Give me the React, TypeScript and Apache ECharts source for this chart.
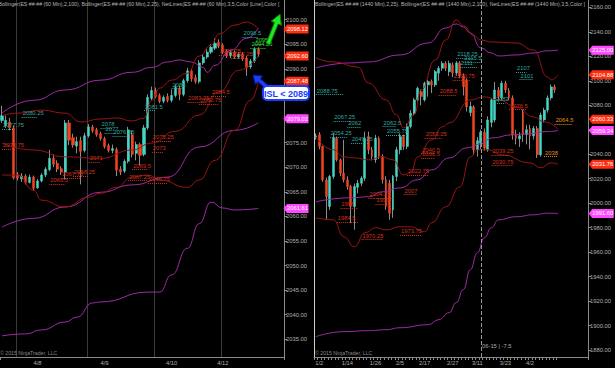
import React, { useEffect, useRef } from 'react';
import * as echarts from 'echarts';

const FONT = "'Liberation Sans Narrow', 'Liberation Sans', Arial, sans-serif";

// ---------- axes ----------
const LEFT_CATEGORY_COUNT = 72;
const RIGHT_CATEGORY_COUNT = 78;
const leftYMin = 2031.4;
const leftYMax = 2104;
const rightYMin = 1874.3;
const rightYMax = 2166;
const leftYTicks = [2035, 2040, 2045, 2050, 2055, 2060, 2065, 2070, 2075, 2080, 2085, 2090, 2095, 2100];
const rightYTicks = [1880, 1900, 1920, 1940, 1960, 1980, 2000, 2020, 2040, 2060, 2080, 2100, 2120, 2140, 2160];
const leftDateLabels = ['4/8', '4/9', '4/10', '4/12'];
const leftDateIndex = [9, 26, 43, 56];
const leftSessionBreaks = [4, 22, 39, 56];
const leftTickIndex = [60];
const rightDateLabels = ['1/2', '1/14', '1/26', '2/5', '2/17', '2/27', '3/11', '3/23', '4/2'];
const rightDateIndex = [1, 9, 17, 24, 31, 39, 46, 54, 61];
const rightLastTick = 69;
const rightRollIndex = 47;

// ---------- 60 min candles [open, close, low, high] ----------
const leftCandles = [
  [2079.5, 2080.5, 2079, 2082.5], [2078.5, 2079.5, 2078, 2080.5], [2079.2, 2078, 2077.5, 2080],
  [2078, 2067.8, 2067.5, 2078.5], [2068.5, 2067.8, 2067.3, 2069], [2067.6, 2068.2, 2067, 2068.8],
  [2068.2, 2066.9, 2066.5, 2068.6], [2066.9, 2068, 2066.7, 2068.5], [2068, 2065.7, 2065.2, 2068.3],
  [2065.8, 2067.2, 2065.6, 2067.6], [2067.2, 2068.4, 2066.9, 2068.8], [2068.4, 2069.6, 2068, 2070],
  [2069.5, 2071.8, 2069.2, 2073.5], [2071.8, 2070.6, 2070, 2072.6], [2070.8, 2069.6, 2069, 2071.4],
  [2069.7, 2069, 2068.4, 2070.2], [2069, 2079, 2067.5, 2079.6], [2079, 2075.5, 2074.5, 2079.6],
  [2076, 2074.5, 2074, 2076.8], [2074.3, 2075.2, 2072.8, 2076.2], [2075.4, 2073.2, 2066.5, 2076.2],
  [2073.4, 2076.4, 2073, 2077], [2076.4, 2078.2, 2076, 2078.8], [2078.2, 2077.4, 2077, 2078.6],
  [2077.6, 2076.6, 2076.2, 2078], [2076.8, 2075.8, 2075.4, 2077.2], [2075.8, 2074.2, 2073.8, 2076.2],
  [2074.4, 2073.4, 2073, 2074.8], [2073.4, 2073.8, 2072.8, 2074.6], [2073.6, 2069.4, 2068.2, 2074],
  [2069.6, 2069, 2068.4, 2070.2], [2069.2, 2071.2, 2068.8, 2071.6], [2071.2, 2077.6, 2070.8, 2078.2],
  [2076.6, 2072.6, 2072, 2077.4], [2072.8, 2074.6, 2071.4, 2075.2], [2074.6, 2072.4, 2070.4, 2075],
  [2072.6, 2078, 2072.2, 2078.6], [2078, 2084.2, 2077.6, 2084.8], [2084, 2085.6, 2083.6, 2086.4],
  [2085.6, 2084.4, 2084, 2086.2], [2084.6, 2083.4, 2083, 2085], [2083.4, 2084.2, 2083, 2084.6],
  [2084.4, 2083.6, 2083.2, 2085], [2083.6, 2084.6, 2083.2, 2085.8], [2084.6, 2086.2, 2084.2, 2086.8],
  [2086, 2084.8, 2083.6, 2086.6], [2084.8, 2087.6, 2084.4, 2088], [2087.6, 2089.6, 2087.2, 2090.2],
  [2089.6, 2088, 2087.4, 2090], [2088.2, 2087.4, 2087, 2088.8], [2087.4, 2091.2, 2087, 2091.8],
  [2091.2, 2092.4, 2090.8, 2093], [2092.4, 2093.4, 2092, 2094], [2093.4, 2094.4, 2093, 2095],
  [2094.2, 2095.2, 2093.8, 2096.2], [2095.4, 2094.6, 2094.2, 2096], [2094.8, 2093.4, 2093, 2095.2],
  [2093.6, 2092.6, 2092.2, 2094], [2092.6, 2093.4, 2092.2, 2093.8], [2093.4, 2092.4, 2092, 2093.8],
  [2092.4, 2093, 2092, 2093.4], [2093, 2092, 2091.6, 2093.4], [2092.2, 2090.2, 2088.6, 2092.6],
  [2090.4, 2091.6, 2090, 2092], [2091.6, 2094, 2091.2, 2094.4], [2094, 2093, 2092.4, 2094.4],
];

// ---------- daily candles [open, close, low, high] ----------
const rightCandles = [
  [2054, 2055, 2052, 2057], [2056, 2046.3, 2044, 2058], [2046.3, 2019.1, 2017.5, 2047],
  [2019, 2005.5, 1986.4, 2021], [1997.3, 2021.8, 1994.6, 2023], [2021.8, 2053.1, 2020, 2057.2],
  [2053.1, 2035.4, 2034, 2054.4], [2035.4, 2024.5, 2022, 2036.5], [2024.5, 2019.1, 2017, 2051.7],
  [2019.1, 2013.6, 2011, 2022], [2013.6, 1997.3, 1983.7, 2015], [1997.3, 2013.6, 1978.3, 2016],
  [2013, 2016.3, 2008, 2019], [2016.3, 2020.4, 2014, 2022], [2020.4, 2053.1, 2018, 2058.5],
  [2054.4, 2043.6, 2040, 2058.5], [2043.6, 2038.1, 2035, 2046], [2035.4, 2053.1, 2033, 2055.8],
  [2053.1, 2038.1, 2036, 2054.4], [2038.1, 2019.1, 2016, 2040], [2019.1, 1997.3, 1994.6, 2022],
  [2016.3, 1991.8, 1986.4, 2019], [1994.6, 2021.8, 1988, 2023], [2021.8, 2043.6, 2018, 2046],
  [2043.6, 2054.4, 2040, 2057], [2054.4, 2046.3, 2043.6, 2056], [2046.3, 2062.6, 2044, 2065],
  [2062.6, 2073.5, 2061, 2076], [2073.5, 2084.4, 2072, 2086], [2084.4, 2093.9, 2083, 2095.2],
  [2091.2, 2087.1, 2080, 2093], [2084.4, 2098, 2083, 2099.3], [2096.6, 2099.3, 2087, 2100.7],
  [2099.3, 2096.6, 2090, 2101], [2096.6, 2107.5, 2095, 2108.8], [2106.2, 2110.2, 2100, 2112],
  [2110.2, 2114.3, 2108, 2116], [2114.3, 2110.2, 2108, 2116], [2107.5, 2114.3, 2104, 2116.5],
  [2113, 2106.4, 2103, 2115], [2106.4, 2114.6, 2104, 2116], [2114.6, 2104, 2102, 2116],
  [2104, 2095, 2088, 2106], [2100.7, 2078.7, 2075, 2102], [2074, 2079, 2071, 2083],
  [2078.7, 2043.6, 2039.5, 2080], [2043.6, 2051, 2038, 2054], [2049, 2058, 2044, 2060],
  [2058, 2045, 2043, 2061], [2043.6, 2068, 2042, 2071], [2066, 2084.4, 2062, 2086],
  [2068, 2092.5, 2066, 2099], [2092.5, 2087, 2083, 2095], [2086, 2098, 2084, 2100],
  [2098, 2092.5, 2090, 2100], [2092, 2086, 2084, 2094], [2086, 2056, 2052, 2088],
  [2056, 2053, 2048, 2060], [2052.5, 2055, 2046, 2058], [2074.6, 2056, 2050, 2077],
  [2056, 2060, 2048, 2064], [2061, 2055, 2044, 2064], [2055, 2061, 2052, 2063],
  [2061, 2039.5, 2037, 2063], [2039.5, 2072, 2038, 2074], [2068, 2076, 2066, 2078],
  [2076, 2086, 2074, 2088], [2086, 2095, 2084, 2097], [2095, 2092.5, 2090, 2097],
];

// ---------- Bollinger bands, [category index, value] ----------
const leftPurpleUpper = [[0, 2081], [8, 2083.6], [16, 2085.7], [25, 2087.7], [33, 2089.3], [38, 2090.3], [42, 2091.4], [45, 2091.8], [48, 2091.4], [51, 2090.3], [52, 2089.3], [54, 2090.7], [58, 2093.8], [62, 2096.2], [65, 2098.3]];
const leftPurpleMiddle = [[0, 2057.8], [8, 2059.6], [16, 2061.9], [25, 2064.9], [33, 2066.4], [42, 2068], [50, 2074.1], [59, 2077.5], [65, 2079.02]];
const leftPurpleLower = [[0, 2035.7], [6, 2036.1], [10, 2036.9], [16, 2038.5], [19, 2039.5], [23, 2042.4], [25, 2042.6], [37, 2044.6], [40, 2044.6], [43, 2048.1], [47, 2053.5], [50, 2058.5], [53, 2062.9], [56, 2061.7], [59, 2061.3], [65, 2061.61]];
const leftRedUpper = [[0, 2080.5], [4, 2081], [10, 2081.6], [16, 2081], [20, 2079.2], [25, 2079.8], [29, 2080], [33, 2079.4], [36, 2080], [38, 2083.6], [40, 2086.1], [43, 2087.7], [47, 2089.1], [50, 2092.6], [53, 2094.8], [55, 2097.1], [59, 2098.9], [62, 2099.5], [65, 2098.12]];
const leftRedMiddle = [[0, 2074.9], [8, 2073.5], [16, 2072.1], [25, 2071.8], [33, 2073.5], [38, 2074.9], [44, 2077.3], [50, 2080.6], [55, 2085.3], [60, 2089.7], [65, 2092.6]];
const leftRedLower = [[0, 2068.4], [4, 2068.4], [8, 2065.3], [10, 2063.3], [16, 2061.9], [22, 2063.9], [25, 2064.7], [29, 2065.9], [33, 2068], [37, 2068.4], [40, 2067.4], [47, 2065.9], [50, 2067.4], [54, 2071.4], [59, 2077.5], [63, 2083.6], [65, 2087.48]];

const rightPurpleUpper = [[0, 2110.5], [10, 2114.6], [15, 2115.4], [24, 2121.1], [32, 2130.9], [37, 2143.1], [40, 2146.4], [42, 2144], [44, 2139.1], [47, 2126.8], [50, 2122.7], [52, 2120.3], [57, 2121.1], [62, 2122.7], [66, 2124.5], [69, 2125]];
const rightPurpleMiddle = [[0, 2001.1], [10, 2004.4], [15, 2005.2], [19, 2009.3], [24, 2012.5], [29, 2019.1], [33, 2027.2], [38, 2037], [43, 2045.2], [47, 2048.4], [50, 2053.3], [56, 2055.8], [60, 2056.6], [66, 2058.5], [69, 2059.34]];
const rightPurpleLower = [[0, 1890.9], [8, 1895], [15, 1895.8], [20, 1896.6], [24, 1898.2], [32, 1900.7], [35, 1904.8], [38, 1910.5], [40, 1918.7], [42, 1929.3], [44, 1945.6], [46, 1959.5], [48, 1971.7], [50, 1979.9], [52, 1986.4], [57, 1988.9], [62, 1990.5], [66, 1991.8], [69, 1991.6]];
const rightRedUpper = [[0, 2118.7], [5, 2115.4], [12, 2111.3], [15, 2098.2], [20, 2084.4], [23, 2072.1], [25, 2061.5], [28, 2072.1], [30, 2092.5], [34, 2117], [37, 2133.3], [40, 2149.7], [42, 2145], [45, 2137], [47, 2133.3], [50, 2131.7], [57, 2130.9], [62, 2125.2], [66, 2103.1], [67, 2100.7], [69, 2104.88]];
const rightRedMiddle = [[0, 2054.2], [5, 2043.6], [8, 2037.8], [11, 2037], [15, 2035.4], [19, 2037.8], [22, 2035.4], [25, 2023.1], [27, 2024.8], [29, 2037.8], [33, 2051.7], [36, 2062.3], [38, 2065.6], [44, 2084.4], [48, 2086.8], [52, 2084.4], [57, 2078.7], [62, 2070.5], [65, 2066.4], [69, 2060.33]];
const rightRedLower = [[0, 1988], [5, 1986.4], [8, 1972.5], [11, 1964.4], [14, 1975.8], [17, 1979.9], [20, 1978.2], [24, 1980.7], [27, 1980.7], [31, 1976.6], [33, 1984], [37, 1997], [41, 2013.3], [44, 2037.8], [46, 2043.6], [49, 2043.6], [53, 2039.5], [61, 2032.9], [64, 2028.9], [67, 2032.9], [69, 2031.76]];

// ---------- NetLines levels [value, from index, to index] ----------
const leftTealLevels = [[2080.25, 5, 9], [2077.75, 0, 3], [2081.5, 36, 39], [2086, 43, 46], [2078, 25, 28], [2077, 26, 29], [2076.25, 28, 32], [2096.5, 61, 65]];
const leftRedLevels = [[2073.75, 0, 3], [2071, 22, 25], [2075.25, 38, 43], [2073, 38, 41], [2069.5, 33, 37], [2067.25, 32, 37], [2066.75, 37, 42], [2066.5, 12, 16], [2068.25, 18, 22], [2067.75, 15, 20], [2084.5, 53, 57], [2083.25, 47, 52], [2082.75, 50, 55], [2092.75, 55, 59], [2092.25, 58, 62]];
const leftGreenLevels = [[2095, 64, 66], [2094.25, 63, 67]];
const rightTealLevels = [[2088.75, 0, 8], [2067.25, 5, 10], [2062, 9, 13], [2054.25, 4, 9], [2049.25, 10, 15], [2062.5, 19, 23], [2055.75, 20, 26], [2118.25, 40, 45], [2115.5, 42, 47], [2111, 41, 46], [2107, 57, 60], [2101, 58, 62], [2082, 51, 54]];
const rightRedLevels = [[2088.5, 35, 40], [2100.75, 39, 44], [2053.25, 31, 36], [2040.5, 30, 34], [2036.5, 30, 34], [2022.75, 26, 32], [2007, 25, 29], [2004.25, 15, 22], [1999, 17, 21], [1996, 7, 12], [1984.5, 6, 12], [1970.25, 13, 19], [1973.75, 24, 30], [2076.5, 55, 60], [2039.25, 50, 55], [2030.75, 50, 56]];
const rightOrangeLevels = [[2064.5, 68, 73], [2038, 65, 69]];

// ---------- styles ----------
const UP = '#43d6c4';
const DOWN = '#f4421f';
const WICK = '#8c8c8c';
const BAND_RED = '#9c1414';
const BAND_PURPLE = '#a22aa8';
const TAG_RED = '#ff2d10';
const TAG_MAGENTA = '#ff48ff';
const TEAL_TXT = '#2fa69c';
const RED_TXT = '#d2311c';
const ORANGE_TXT = '#e08f1a';
const GREEN_TXT = '#3ad43a';
const AXIS = '#8a8a8a';
const AXIS_TXT = '#b0b0b0';
const TAG_PATH = 'path://M0,4.5L4,0L29,0L29,9L4,9Z';

const cats = (n: number) => Array.from({ length: n }, (_, i) => String(i));
const labelAt = (idx: number[], labels: string[]) => (_v: any, i: number) => {
  const k = idx.indexOf(i);
  return k >= 0 ? labels[k] : '';
};

function tag(value: number, fill: string, xIdx: number, dx: number, dy = 0) {
  return {
    coord: [xIdx, value],
    value,
    symbol: TAG_PATH,
    symbolSize: [25, 9],
    symbolKeepAspect: false,
    symbolOffset: [dx, dy],
    itemStyle: { color: fill },
    label: {
      show: true, position: 'inside', formatter: value.toFixed(2), color: '#ffffff',
      fontSize: 5.8, fontFamily: FONT, offset: [1.5, 0],
    },
  };
}

function netline(level: number[], color: string) {
  const [v, a, b] = level;
  return [
    {
      coord: [a, v],
      lineStyle: { color, type: 'dotted', width: 1 },
      label: {
        show: true, position: 'insideStartTop', formatter: String(v), color,
        fontSize: 5.8, fontFamily: FONT, distance: 1,
      },
    },
    { coord: [b, v] },
  ];
}

function band(data: number[][], color: string, axisIndex: number, extra: any = {}) {
  return {
    type: 'line', xAxisIndex: axisIndex, yAxisIndex: axisIndex, data,
    smooth: 0.5, smoothMonotone: 'x', symbol: 'none', showSymbol: false,
    lineStyle: { color, width: 1 }, itemStyle: { color }, silent: true, z: 4, clip: false,
    ...extra,
  };
}

function candles(data: number[][], axisIndex: number, width: number) {
  const wick = {
    type: 'candlestick', xAxisIndex: axisIndex, yAxisIndex: axisIndex, data, barWidth: 1, silent: true, z: 2,
    itemStyle: { color: WICK, color0: WICK, borderColor: WICK, borderColor0: WICK, borderWidth: 1 },
  };
  const body = {
    type: 'candlestick', xAxisIndex: axisIndex, yAxisIndex: axisIndex, barWidth: width, silent: true, z: 3,
    data: data.map(([o, c]) => [o, c, Math.min(o, c), Math.max(o, c)]),
    itemStyle: { color: UP, color0: DOWN, borderColor: UP, borderColor0: DOWN, borderWidth: 0.5 },
  };
  return [wick, body];
}

function arrowPoints(tx: number, ty: number, hx: number, hy: number, sw: number, hw: number, hl: number) {
  const dx = hx - tx, dy = hy - ty;
  const L = Math.sqrt(dx * dx + dy * dy);
  const ux = dx / L, uy = dy / L;
  const px = -uy, py = ux;
  const bx = tx + ux * (L - hl), by = ty + uy * (L - hl);
  return [
    [tx + (px * sw) / 2, ty + (py * sw) / 2],
    [bx + (px * sw) / 2, by + (py * sw) / 2],
    [bx + (px * hw) / 2, by + (py * hw) / 2],
    [hx, hy],
    [bx - (px * hw) / 2, by - (py * hw) / 2],
    [bx - (px * sw) / 2, by - (py * sw) / 2],
    [tx - (px * sw) / 2, ty - (py * sw) / 2],
  ];
}

function xAxisBase(grid: number, n: number, idx: number[], labels: string[], tickFn: (i: number) => boolean, splitFn: (i: number) => boolean) {
  return {
    type: 'category', gridIndex: grid, data: cats(n), boundaryGap: true,
    axisLine: { show: true, lineStyle: { color: AXIS, width: 1 } },
    axisTick: { show: true, interval: (i: number) => tickFn(i), length: 3, lineStyle: { color: AXIS } },
    axisLabel: { interval: 0, formatter: labelAt(idx, labels), color: AXIS_TXT, fontSize: 5.8, fontFamily: FONT, margin: 3 },
    splitLine: { show: true, interval: (i: number) => splitFn(i), lineStyle: { color: '#3a3a3a', width: 1 } },
  };
}

function yAxisBase(grid: number, min: number, max: number, ticks: number[]) {
  return {
    type: 'value', gridIndex: grid, position: 'right', min, max,
    axisLine: { show: true, lineStyle: { color: AXIS, width: 1 } },
    axisTick: { show: true, length: 3, customValues: ticks, lineStyle: { color: AXIS } },
    axisLabel: {
      customValues: ticks, formatter: (v: number) => v.toFixed(2), color: AXIS_TXT,
      fontSize: 5.8, fontFamily: FONT, margin: 2,
    },
    splitLine: { show: false },
  };
}

function buildOption() {
  const L = 0, R = 1;
  const leftLast = LEFT_CATEGORY_COUNT - 1;
  const rightLast = RIGHT_CATEGORY_COUNT - 1;

  const leftNet = [
    ...leftTealLevels.map((l) => netline(l, TEAL_TXT)),
    ...leftRedLevels.map((l) => netline(l, RED_TXT)),
    ...leftGreenLevels.map((l) => netline(l, GREEN_TXT)),
  ];
  const rightNet = [
    ...rightTealLevels.map((l) => netline(l, TEAL_TXT)),
    ...rightRedLevels.map((l) => netline(l, RED_TXT)),
    ...rightOrangeLevels.map((l) => netline(l, ORANGE_TXT)),
  ];

  const lastVal = (d: number[][]) => d[d.length - 1][1];
  const mp = (items: any[]) => ({ silent: true, animation: false, data: items });
  const ml = (items: any[]) => ({ silent: true, animation: false, symbol: ['none', 'none'], data: items });

  const series: any[] = [
    ...candles(leftCandles, L, 2.6),
    ...candles(rightCandles, R, 2.4),
    band(leftPurpleUpper, BAND_PURPLE, L),
    band(leftPurpleMiddle, BAND_PURPLE, L, { markPoint: mp([tag(lastVal(leftPurpleMiddle), TAG_MAGENTA, leftLast, 14, -4)]) }),
    band(leftPurpleLower, BAND_PURPLE, L, { markPoint: mp([tag(lastVal(leftPurpleLower), TAG_MAGENTA, leftLast, 14)]) }),
    band(leftRedUpper, BAND_RED, L, { markPoint: mp([tag(lastVal(leftRedUpper), TAG_RED, leftLast, 14)]) }),
    band(leftRedMiddle, BAND_RED, L, {
      markPoint: mp([tag(lastVal(leftRedMiddle), TAG_RED, leftLast, 14)]),
      markLine: ml(leftNet),
    }),
    band(leftRedLower, BAND_RED, L, { markPoint: mp([tag(lastVal(leftRedLower), TAG_RED, leftLast, 14)]) }),
    band(rightPurpleUpper, BAND_PURPLE, R, { markPoint: mp([tag(lastVal(rightPurpleUpper), TAG_MAGENTA, rightLast, 15)]) }),
    band(rightPurpleMiddle, BAND_PURPLE, R, { markPoint: mp([tag(lastVal(rightPurpleMiddle), TAG_MAGENTA, rightLast, 15)]) }),
    band(rightPurpleLower, BAND_PURPLE, R, {
      markPoint: mp([tag(lastVal(rightPurpleLower), TAG_MAGENTA, rightLast, 15)]),
      markLine: ml([{ xAxis: rightRollIndex, lineStyle: { color: '#9a9a9a', type: 'dashed', width: 1 }, label: { show: false } }]),
    }),
    band(rightRedUpper, BAND_RED, R, { markPoint: mp([tag(lastVal(rightRedUpper), TAG_RED, rightLast, 15)]) }),
    band(rightRedMiddle, BAND_RED, R, {
      markPoint: mp([tag(lastVal(rightRedMiddle), TAG_RED, rightLast, 15, -10)]),
      markLine: ml(rightNet),
    }),
    band(rightRedLower, BAND_RED, R, { markPoint: mp([tag(lastVal(rightRedLower), TAG_RED, rightLast, 15)]) }),
  ];

  const headerStyle = { fill: '#b4b4b4', fontSize: 5.2, fontFamily: FONT, overflow: 'truncate', ellipsis: '' };

  return {
    animation: false,
    backgroundColor: '#000000',
    textStyle: { fontFamily: FONT },
    grid: [
      { left: 0, top: 0, width: 284, height: 357, outerBoundsMode: 'none', containLabel: false },
      { left: 314, top: 0, width: 274, height: 357, outerBoundsMode: 'none', containLabel: false },
    ],
    xAxis: [
      xAxisBase(0, LEFT_CATEGORY_COUNT, leftDateIndex, leftDateLabels, (i) => leftTickIndex.includes(i), (i) => leftSessionBreaks.includes(i)),
      { ...xAxisBase(1, RIGHT_CATEGORY_COUNT, rightDateIndex, rightDateLabels, (i) => i <= rightLastTick, () => false), splitLine: { show: false } },
    ],
    yAxis: [
      yAxisBase(0, leftYMin, leftYMax, leftYTicks),
      yAxisBase(1, rightYMin, rightYMax, rightYTicks),
      {
        type: 'value', gridIndex: 1, position: 'left', min: rightYMin, max: rightYMax,
        axisLine: { show: true, lineStyle: { color: '#d0d0d0', width: 1 } },
        axisTick: { show: false }, axisLabel: { show: false }, splitLine: { show: false },
      },
    ],
    series,
    graphic: [
      {
        type: 'text', x: -1.5, y: 1.5, z: 50, silent: true,
        style: { ...headerStyle, width: 285, text: 'Bollinger(ES ##-## (60 Min),2,100), Bollinger(ES ##-## (60 Min),2,25), NetLines(ES ##-## (60 Min),3,5,Color [Line],Color [Da' },
      },
      {
        type: 'text', x: 315, y: 1.5, z: 50, silent: true,
        style: { ...headerStyle, width: 273, text: 'Bollinger(ES ##-## (1440 Min),2,25), Bollinger(ES ##-## (1440 Min),2,100), NetLines(ES ##-## (1440 Min),3,5,Color [Lin' },
      },
      { type: 'text', x: 0, y: 350, z: 50, silent: true, style: { text: '© 2015 NinjaTrader, LLC', fill: '#8a8a8a', fontSize: 5.2, fontFamily: FONT } },
      { type: 'text', x: 315, y: 350, z: 50, silent: true, style: { text: '© 2015 NinjaTrader, LLC', fill: '#8a8a8a', fontSize: 5.2, fontFamily: FONT } },
      { type: 'text', x: 482, y: 343, z: 50, silent: true, style: { text: '06-15 | -7.5', fill: '#a8a8a8', fontSize: 5.8, fontFamily: FONT } },
      {
        type: 'polygon', z: 60, silent: true,
        shape: { points: arrowPoints(268, 44, 280, 14, 4, 11, 10) },
        style: { fill: '#1ee81e', stroke: '#0b7a0b', lineWidth: 1 },
      },
      {
        type: 'polygon', z: 60, silent: true,
        shape: { points: arrowPoints(268, 88, 253, 75, 4, 11, 8) },
        style: { fill: '#1a3dff', stroke: '#0a1a99', lineWidth: 1 },
      },
      {
        type: 'rect', z: 61, silent: true,
        shape: { x: 263, y: 86, width: 46, height: 14, r: 4 },
        style: { fill: '#ffffff', stroke: '#1a3dff', lineWidth: 2 },
      },
      {
        type: 'text', x: 286, y: 93.5, z: 62, silent: true,
        style: { text: 'ISL < 2089', fill: '#1a3dff', fontSize: 9, fontWeight: 'bold', fontFamily: FONT, align: 'center', verticalAlign: 'middle' },
      },
    ],
  };
}

export default function App() {
  const ref = useRef<HTMLDivElement>(null);
  useEffect(() => {
    if (!ref.current) return;
    const chart = echarts.init(ref.current, null, { renderer: 'svg' });
    chart.setOption(buildOption() as any);
    return () => chart.dispose();
  }, []);
  return (
    <div
      ref={ref}
      style={{ position: 'fixed', left: 0, top: 0, width: 615, height: 368, background: '#000' }}
    />
  );
}
